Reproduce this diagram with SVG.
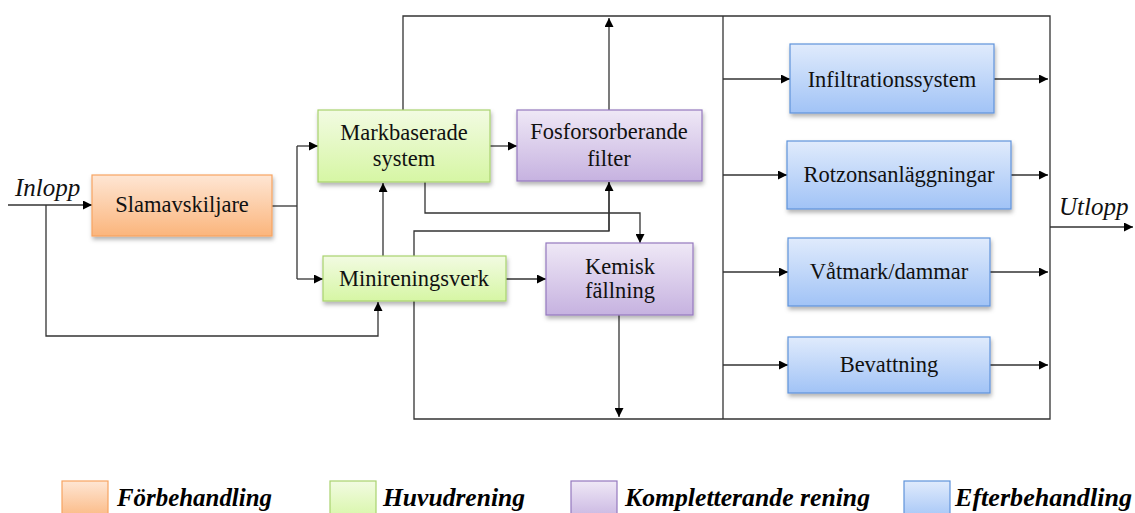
<svg xmlns="http://www.w3.org/2000/svg" width="1135" height="513" viewBox="0 0 1135 513">
<style>
.ln{fill:none;stroke:#333;stroke-width:1.3}
text{font-family:'Liberation Serif',Tinos,'Times New Roman',Times,'DejaVu Serif','Noto Serif',serif}
.t{font-size:22.5px;fill:#111;text-anchor:middle}
.it{font-size:25px;font-style:italic;fill:#111}
.lg{font-size:25px;font-style:italic;font-weight:bold;fill:#000}
.or{fill:url(#gOr);stroke:#f7a462;stroke-width:1.2}
.gr{fill:url(#gGr);stroke:#a9d26e;stroke-width:1.2}
.pu{fill:url(#gPu);stroke:#9478be;stroke-width:1.2}
.bl{fill:url(#gBl);stroke:#5f93da;stroke-width:1.2}
</style>
<defs>
<linearGradient id="gOr" x1="0" y1="0" x2="0" y2="1"><stop offset="0" stop-color="#fee6d4"/><stop offset="1" stop-color="#fbb57c"/></linearGradient>
<linearGradient id="gGr" x1="0" y1="0" x2="0" y2="1"><stop offset="0" stop-color="#f2fbe2"/><stop offset="1" stop-color="#d6f6a4"/></linearGradient>
<linearGradient id="gPu" x1="0" y1="0" x2="0" y2="1"><stop offset="0" stop-color="#efe8f6"/><stop offset="1" stop-color="#c6b2e0"/></linearGradient>
<linearGradient id="gBl" x1="0" y1="0" x2="0" y2="1"><stop offset="0" stop-color="#e0ebfc"/><stop offset="1" stop-color="#a1c3f6"/></linearGradient>
<filter id="sh" x="-10%" y="-10%" width="130%" height="140%"><feDropShadow dx="1" dy="3" stdDeviation="2" flood-color="#000" flood-opacity="0.3"/></filter>
<marker id="ar" viewBox="0 0 10 10" refX="10" refY="5" markerWidth="11" markerHeight="9" markerUnits="userSpaceOnUse" orient="auto"><path d="M0,0 L10,5 L0,10 z" fill="#000"/></marker>
</defs>

<g id="connectors">
<path class="ln" d="M8,205 H92" marker-end="url(#ar)" stroke-width="1.8"/>
<path class="ln" d="M46,205 V336 H378 V302" marker-end="url(#ar)"/>
<path class="ln" d="M272,206 H297"/>
<path class="ln" d="M297,146 V279"/>
<path class="ln" d="M297,146 H318" marker-end="url(#ar)"/>
<path class="ln" d="M297,279 H323" marker-end="url(#ar)"/>
<path class="ln" d="M490,146 H517" marker-end="url(#ar)"/>
<path class="ln" d="M403,110 V16 H1050 V419 H414 V231 H609 V182"/>
<path class="ln" d="M609,231 V182" marker-end="url(#ar)"/>
<path class="ln" d="M609,110 V18" marker-end="url(#ar)"/>
<path class="ln" d="M723,16 V419"/>
<path class="ln" d="M425,182 V213 H640 V243" marker-end="url(#ar)"/>
<path class="ln" d="M383,256 V183" marker-end="url(#ar)"/>
<path class="ln" d="M506,279 H546" marker-end="url(#ar)"/>
<path class="ln" d="M619,315 V417" marker-end="url(#ar)"/>
<path class="ln" d="M723,79 H790" marker-end="url(#ar)"/>
<path class="ln" d="M994,79 H1048" marker-end="url(#ar)"/>
<path class="ln" d="M723,175 H787" marker-end="url(#ar)"/>
<path class="ln" d="M1011,175 H1048" marker-end="url(#ar)"/>
<path class="ln" d="M723,272 H788" marker-end="url(#ar)"/>
<path class="ln" d="M990,272 H1048" marker-end="url(#ar)"/>
<path class="ln" d="M723,365 H788" marker-end="url(#ar)"/>
<path class="ln" d="M990,365 H1048" marker-end="url(#ar)"/>
<path class="ln" d="M1050,227 H1133" marker-end="url(#ar)" stroke-width="2"/>
</g>

<g id="label-inlopp"><text class="it" x="15" y="196">Inlopp</text></g>
<g id="label-utlopp"><text class="it" x="1059" y="215">Utlopp</text></g>

<g id="slamavskiljare">
<rect class="or" x="92" y="175" width="180" height="61" filter="url(#sh)"/>
<text class="t" x="182" y="212">Slamavskiljare</text>
</g>
<g id="markbaserade">
<rect class="gr" x="318" y="110" width="172" height="72" filter="url(#sh)"/>
<text class="t" x="404" y="140">Markbaserade</text>
<text class="t" x="404" y="166">system</text>
</g>
<g id="fosforsorberande">
<rect class="pu" x="517" y="110" width="185" height="71" filter="url(#sh)"/>
<text class="t" x="609" y="139">Fosforsorberande</text>
<text class="t" x="609" y="166">filter</text>
</g>
<g id="minireningsverk">
<rect class="gr" x="323" y="256" width="183" height="45" filter="url(#sh)"/>
<text class="t" x="414" y="286">Minireningsverk</text>
</g>
<g id="kemisk">
<rect class="pu" x="546" y="243" width="147" height="72" filter="url(#sh)"/>
<text class="t" x="620" y="274">Kemisk</text>
<text class="t" x="620" y="298">fällning</text>
</g>
<g id="infiltration">
<rect class="bl" x="790" y="44" width="204" height="69" filter="url(#sh)"/>
<text class="t" x="892" y="87">Infiltrationssystem</text>
</g>
<g id="rotzon">
<rect class="bl" x="787" y="141" width="224" height="68" filter="url(#sh)"/>
<text class="t" x="899" y="182">Rotzonsanläggningar</text>
</g>
<g id="vatmark">
<rect class="bl" x="788" y="238" width="202" height="68" filter="url(#sh)"/>
<text class="t" x="889" y="279">Våtmark/dammar</text>
</g>
<g id="bevattning">
<rect class="bl" x="788" y="337" width="202" height="56" filter="url(#sh)"/>
<text class="t" x="889" y="372">Bevattning</text>
</g>

<g id="legend">
<rect class="or" x="62" y="481" width="46" height="40"/>
<text class="lg" x="117" y="506" textLength="155" lengthAdjust="spacingAndGlyphs">Förbehandling</text>
<rect class="gr" x="330" y="481" width="46" height="40"/>
<text class="lg" x="383" y="506" textLength="142" lengthAdjust="spacingAndGlyphs">Huvudrening</text>
<rect class="pu" x="571" y="481" width="46" height="40"/>
<text class="lg" x="625" y="506" textLength="245" lengthAdjust="spacingAndGlyphs">Kompletterande rening</text>
<rect class="bl" x="904" y="481" width="46" height="40"/>
<text class="lg" x="955" y="506" textLength="177" lengthAdjust="spacingAndGlyphs">Efterbehandling</text>
</g>
</svg>
